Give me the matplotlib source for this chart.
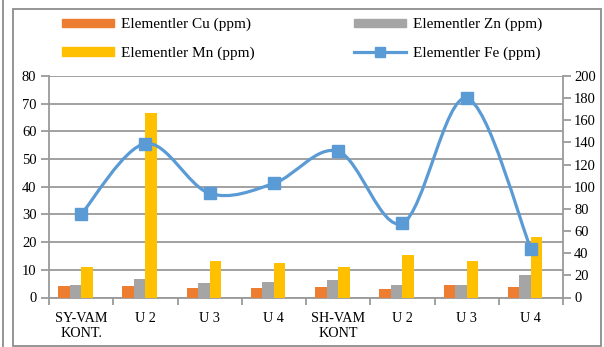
import numpy as np
import matplotlib
matplotlib.use('Agg')
import matplotlib.pyplot as plt
from matplotlib.path import Path
from matplotlib.patches import PathPatch, Patch, Rectangle
from matplotlib.lines import Line2D

plt.rcParams['font.family'] = 'Liberation Serif'

categories = ['SY-VAM\nKONT.', 'U 2', 'U 3', 'U 4', 'SH-VAM\nKONT', 'U 2', 'U 3', 'U 4']
cu = [4.0, 4.0, 3.3, 3.3, 3.9, 3.2, 4.6, 3.9]
zn = [4.6, 6.8, 5.4, 5.5, 6.2, 4.6, 4.6, 8.2]
mn = [11.1, 66.5, 13.3, 12.6, 11.1, 15.4, 13.2, 21.8]
fe = [75, 139, 94, 103, 132, 67, 180, 44]

c_cu = '#ED7D31'
c_zn = '#A5A5A5'
c_mn = '#FFC000'
c_fe = '#5B9BD5'
grid_c = '#9a9a9a'

W, H = 604, 347
fig = plt.figure(figsize=(W / 100, H / 100), dpi=100)

# chart frame
fig.add_artist(Rectangle((13 / W, 1 - 346 / H), 588 / W, 337 / H, transform=fig.transFigure,
                         fill=False, edgecolor='#8c8c8c', linewidth=1.3))
fig.add_artist(Line2D([2.5 / W, 2.5 / W], [0, 1], transform=fig.transFigure,
                      color='#8c8c8c', linewidth=1.3))

ax = fig.add_axes([49 / W, (H - 297.5) / H, (563 - 49) / W, (297.5 - 76) / H])
ax2 = ax.twinx()

x = np.arange(len(categories))
w = 0.179
ax.bar(x - 1.5 * w, cu, w, color=c_cu, zorder=3)
ax.bar(x - 0.5 * w, zn, w, color=c_zn, zorder=3)
ax.bar(x + 0.5 * w, mn, w, color=c_mn, zorder=3)

ax.set_xlim(-0.5, len(categories) - 0.5)
ax.set_ylim(0, 80)
ax.set_yticks(range(0, 81, 10))
ax.yaxis.grid(True, color=grid_c, linewidth=1.3, zorder=0)
ax.set_axisbelow(True)
ax.set_xticks(x)
ax.set_xticklabels(categories, fontsize=10.2, linespacing=1.15)
ax.set_xticks(np.arange(-0.5, len(categories)), minor=True)
ax.tick_params(axis='x', which='major', length=0, pad=10.5)
ax.tick_params(axis='x', which='minor', length=5, width=1.3, color=grid_c)
ax.tick_params(axis='y', length=6, width=1.3, color=grid_c, labelsize=10.5, pad=3)

ax2.set_ylim(0, 200)
ax2.set_yticks(range(0, 201, 20))
ax2.tick_params(axis='y', length=6, width=1.3, color=grid_c, labelsize=10.5, pad=2)

for a in (ax, ax2):
    for s in a.spines.values():
        s.set_visible(False)
ax.spines['left'].set_visible(True)
ax.spines['bottom'].set_visible(True)
ax2.spines['right'].set_visible(True)
for s in (ax.spines['left'], ax.spines['bottom'], ax2.spines['right']):
    s.set_color(grid_c)
    s.set_linewidth(1.3)

# smoothed Fe curve (Catmull-Rom as cubic Bezier segments)
pts = np.column_stack([x, fe]).astype(float)
ext = np.vstack([pts[0], pts, pts[-1]])
verts = [tuple(pts[0])]
codes = [Path.MOVETO]
for i in range(len(pts) - 1):
    p0, p1, p2, p3 = ext[i], ext[i + 1], ext[i + 2], ext[i + 3]
    verts += [tuple(p1 + (p2 - p0) / 6), tuple(p2 - (p3 - p1) / 6), tuple(p2)]
    codes += [Path.CURVE4] * 3
ax2.add_patch(PathPatch(Path(verts, codes), fill=False, edgecolor=c_fe,
                        linewidth=2.3, zorder=4, capstyle='round'))
ax2.plot(x, fe, linestyle='none', marker='s', markersize=8.5, color=c_fe, zorder=5)

handles = [Patch(color=c_cu), Patch(color=c_mn), Patch(color=c_zn),
           Line2D([], [], color=c_fe, linewidth=2.3, marker='s', markersize=6.5)]
labels = ['Elementler Cu (ppm)', 'Elementler Mn (ppm)',
          'Elementler Zn (ppm)', 'Elementler Fe (ppm)']
fig.legend(handles, labels, ncol=2, loc='upper left',
           bbox_to_anchor=(62 / W, 1 - 18 / H), bbox_transform=fig.transFigure,
           frameon=False, fontsize=11, handlelength=3.4, handleheight=0.5,
           handletextpad=0.45, columnspacing=6.5, labelspacing=1.0,
           borderpad=0, borderaxespad=0)

fig.savefig('out.png', dpi=100)
